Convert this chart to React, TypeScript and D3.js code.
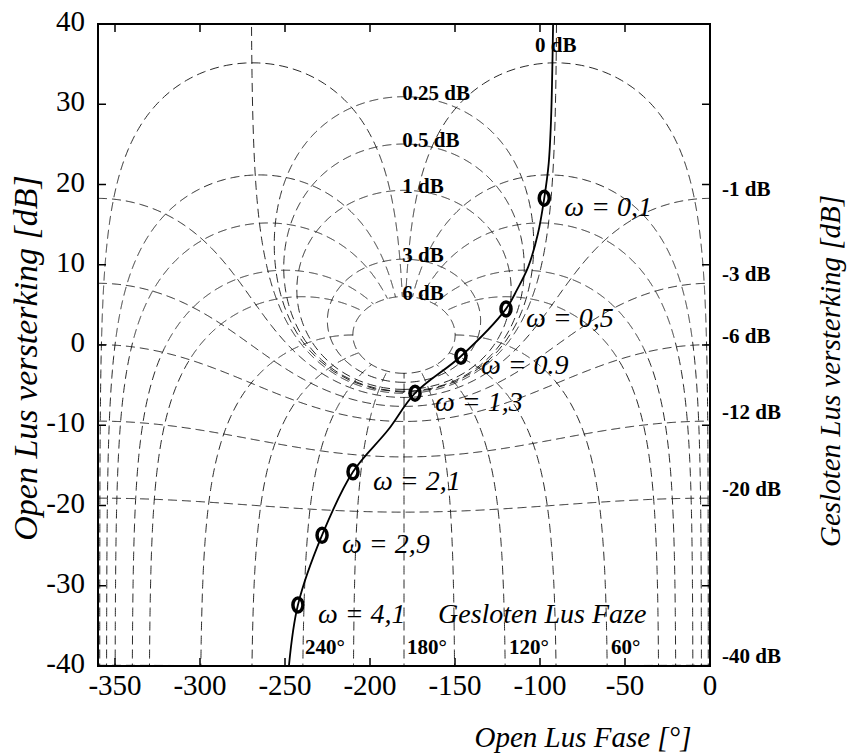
import React, { useMemo } from 'react';
import * as d3 from 'd3';

// Nichols chart, open loop response with frequency markers

const W = 856;
const H = 756;
const plot = { left: 98, right: 710, top: 24, bottom: 666 };
const SERIF = "'Liberation Serif', 'Times New Roman', Times, serif";

const phaseTicks = [-350, -300, -250, -200, -150, -100, -50, 0];
const gainTicks = [-40, -30, -20, -10, 0, 10, 20, 30, 40];

// closed loop gain (dB) and phase (deg) contours of the grid
const clGainsDb = [6, 3, 1, 0.5, 0.25, 0, -1, -3, -6, -12, -20, -40];
const clPhasesDeg = [-1, -5, -10, -20, -30, -60, -90, -120, -150, -180, -210, -240, -270, -300, -330, -340, -350, -355, -359];

const topGainLabels = [0.25, 0.5, 1, 3, 6];
const sideGainLabels = [-1, -3, -6, -12, -20, -40];
const phaseLabelValues = [240, 180, 120, 60];

// open loop curve
const curvePhase = [-92.3, -93.5, -94.9, -97.5, -101.2, -107, -113.5, -120, -146.5, -173.5, -189.4, -210, -228.2, -242.4, -247.7];
const curveGain = [40, 28.1, 22.6, 18.3, 13.9, 9.7, 6.9, 4.5, -1.4, -6.0, -10.6, -15.8, -23.7, -32.4, -40];

const omegaText = ['0,1', '0,5', '0.9', '1,3', '2,1', '2,9', '4,1'];
const omegaPhase = [-97.5, -120, -146.5, -173.5, -210, -228.2, -242.4];
const omegaGain = [18.3, 4.5, -1.4, -6.0, -15.8, -23.7, -32.4];

const toDeg = (re: number, im: number) => {
  let d = (Math.atan2(im, re) * 180) / Math.PI;
  if (d > 0) d -= 360;
  return d;
};
const db = (v: number) => 20 * Math.log10(v);

function gainContour(gdb: number): [number, number][] {
  const m = Math.pow(10, gdb / 20);
  const pts: [number, number][] = [];
  if (gdb === 0) {
    for (let p = -269.8; p <= -90.2; p += 0.2) {
      const g = -1 / (2 * Math.cos((p * Math.PI) / 180));
      pts.push([p, db(g)]);
    }
  } else if (m < 1) {
    const m2 = m * m;
    for (let p = -360; p <= 0.001; p += 0.5) {
      const c = Math.cos((p * Math.PI) / 180);
      const g = (m2 * c + Math.sqrt(m2 * m2 * c * c + m2 * (1 - m2))) / (1 - m2);
      pts.push([p, db(g)]);
    }
  } else {
    const c = -(m * m) / (m * m - 1);
    const r = m / (m * m - 1);
    for (let i = 0; i <= 720; i++) {
      const t = (i / 720) * 2 * Math.PI;
      const re = c + r * Math.cos(t);
      const im = r * Math.sin(t);
      pts.push([toDeg(re, im), db(Math.hypot(re, im))]);
    }
  }
  return pts;
}

function phaseContour(psi: number): [number, number][] {
  const pts: [number, number][] = [];
  const a0 = (psi * Math.PI) / 180;
  let rdb = -80;
  while (rdb <= 6.0001) {
    const r = Math.pow(10, rdb / 20);
    const a = r * Math.cos(a0);
    const b = r * Math.sin(a0);
    const den = (1 - a) * (1 - a) + b * b;
    const re = (a - a * a - b * b) / den;
    const im = b / den;
    pts.push([toDeg(re, im), db(Math.hypot(re, im))]);
    rdb += Math.abs(rdb) < 6 ? 0.01 : 0.25;
  }
  return pts;
}

export default function App() {
  const x = d3.scaleLinear().domain([-360, 0]).range([plot.left, plot.right]);
  const y = d3.scaleLinear().domain([-40, 40]).range([plot.bottom, plot.top]);

  const line = d3
    .line<[number, number]>()
    .x((d) => x(d[0]))
    .y((d) => y(Math.max(-60, Math.min(60, d[1]))));

  const grid = useMemo(() => {
    const g = clGainsDb.map((v) => line(gainContour(v)) || '');
    const p = clPhasesDeg.map((v) => line(phaseContour(v)) || '');
    return g.concat(p);
  }, []);

  const curveData: [number, number][] = curvePhase.map((p, i) => [p, curveGain[i]]);
  const curvePath =
    d3
      .line<[number, number]>()
      .x((d) => x(d[0]))
      .y((d) => y(d[1]))
      .curve(d3.curveCatmullRom.alpha(0.5))(curveData) || '';

  const topPeak = (g: number) => {
    const m = Math.pow(10, g / 20);
    const c = (m * m) / (m * m - 1);
    const r = m / (m * m - 1);
    return db(c + r);
  };
  const sideEnd = (g: number) => {
    const m = Math.pow(10, g / 20);
    return db(m / (1 - m));
  };

  const tick = 8;

  return (
    <svg
      width={W}
      height={H}
      style={{ position: 'absolute', left: 0, top: 0, background: '#fff', fontFamily: SERIF }}
    >
      <defs>
        <clipPath id="plotclip">
          <rect x={plot.left} y={plot.top} width={plot.right - plot.left} height={plot.bottom - plot.top} />
        </clipPath>
      </defs>

      {/* Nichols grid */}
      <g clipPath="url(#plotclip)" fill="none" stroke="#111" strokeWidth={0.9} strokeDasharray="9,5">
        {grid.map((d, i) => (
          <path key={i} d={d} />
        ))}
      </g>

      {/* open loop curve */}
      <g clipPath="url(#plotclip)">
        <path d={curvePath} fill="none" stroke="#000" strokeWidth={1.8} />
      </g>
      {omegaPhase.map((p, i) => (
        <ellipse key={i} cx={x(p)} cy={y(omegaGain[i])} rx={5} ry={7} fill="none" stroke="#000" strokeWidth={3.5} />
      ))}
      {omegaText.map((t, i) => (
        <text key={i} x={x(omegaPhase[i]) + 20} y={y(omegaGain[i]) + 18} fontSize={28} fontStyle="italic">
          {`ω = ${t}`}
        </text>
      ))}

      {/* frame and ticks */}
      <rect
        x={plot.left}
        y={plot.top}
        width={plot.right - plot.left}
        height={plot.bottom - plot.top}
        fill="none"
        stroke="#000"
        strokeWidth={2}
      />
      <g stroke="#000" strokeWidth={1.5}>
        {phaseTicks.slice(0, -1).map((t) => (
          <g key={t}>
            <line x1={x(t)} x2={x(t)} y1={plot.bottom} y2={plot.bottom - tick} />
            <line x1={x(t)} x2={x(t)} y1={plot.top} y2={plot.top + tick} />
          </g>
        ))}
        {gainTicks.slice(1, -1).map((t) => (
          <g key={t}>
            <line x1={plot.left} x2={plot.left + tick} y1={y(t)} y2={y(t)} />
            <line x1={plot.right} x2={plot.right - tick} y1={y(t)} y2={y(t)} />
          </g>
        ))}
      </g>
      <g fontSize={29}>
        {phaseTicks.map((t) => (
          <text key={t} x={x(t)} y={plot.bottom + 29} textAnchor="middle">
            {t}
          </text>
        ))}
        {gainTicks.map((t) => (
          <text key={t} x={plot.left - 13} y={y(t) - 3} textAnchor="end" dominantBaseline="central">
            {t}
          </text>
        ))}
      </g>

      {/* grid labels */}
      <g fontSize={21} fontWeight="bold">
        <text x={x(-102.9)} y={y(37.4)} dominantBaseline="central">
          0 dB
        </text>
        {topGainLabels.map((g) => (
          <text key={g} x={x(-181)} y={y(topPeak(g)) - 4} dominantBaseline="central">
            {`${g} dB`}
          </text>
        ))}
        {sideGainLabels.map((g) => (
          <text key={g} x={plot.right + 12} y={y(sideEnd(g)) - 9} dominantBaseline="central">
            {`${g} dB`}
          </text>
        ))}
        {phaseLabelValues.map((p) => (
          <text key={p} x={x(-p) + 3} y={plot.bottom - 19} dominantBaseline="central">
            {`${p}°`}
          </text>
        ))}
      </g>
      <text x={x(-160)} y={y(-34.6)} fontSize={28} fontStyle="italic">
        Gesloten Lus Faze
      </text>

      {/* axis titles */}
      <text x={583} y={747} fontSize={29} fontStyle="italic" textAnchor="middle">
        Open Lus Fase [°]
      </text>
      <text
        transform="translate(25,358) rotate(-90)"
        fontSize={34}
        fontStyle="italic"
        textAnchor="middle"
        dominantBaseline="central"
      >
        Open Lus versterking [dB]
      </text>
      <text
        transform="translate(830,371) rotate(-90)"
        fontSize={29}
        fontStyle="italic"
        textAnchor="middle"
        dominantBaseline="central"
      >
        Gesloten Lus versterking [dB]
      </text>
    </svg>
  );
}
